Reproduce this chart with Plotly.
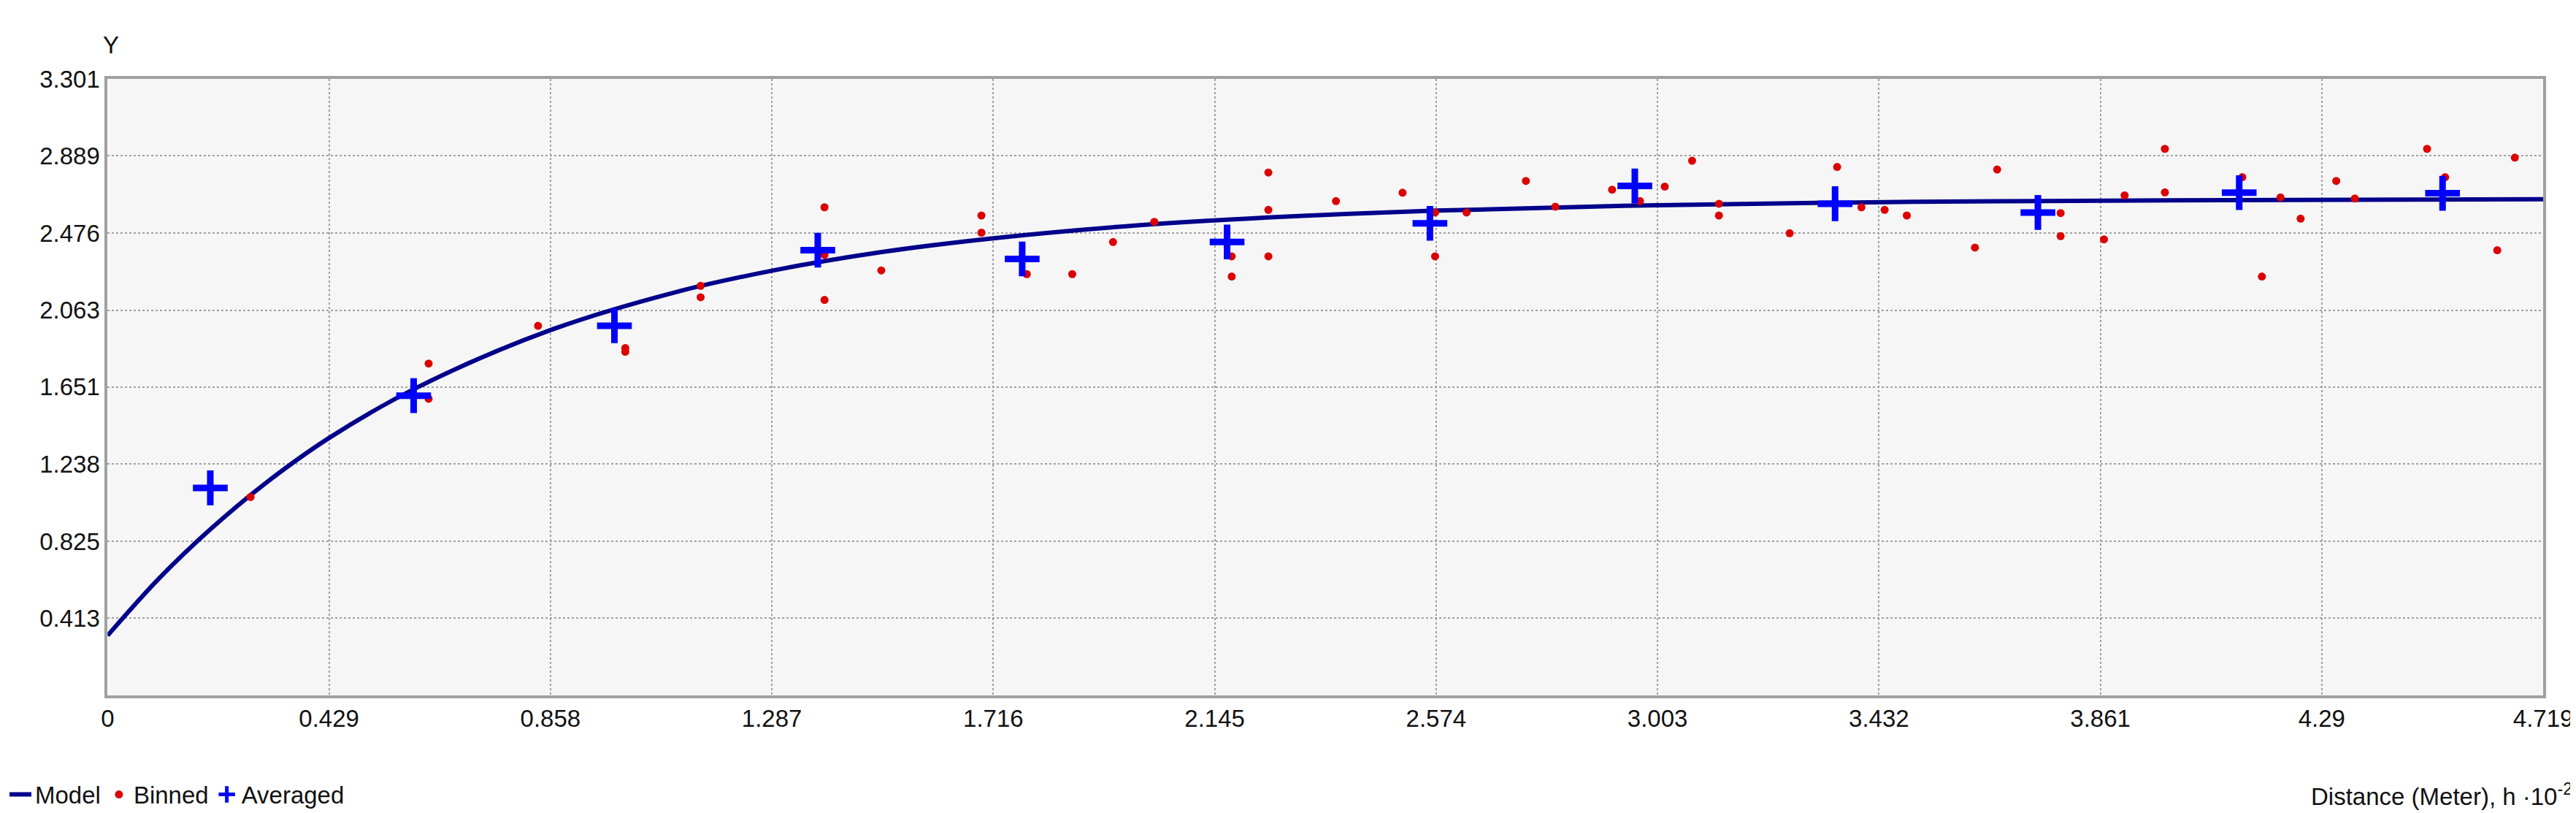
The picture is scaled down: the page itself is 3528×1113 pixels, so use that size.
import plotly.graph_objects as go

model_x = [0, 0.1, 0.2, 0.3, 0.429, 0.6, 0.858, 1.1, 1.287, 1.5, 1.716, 2.0, 2.3, 2.574, 3.0, 3.5, 4.0, 4.719]
model_y = [0.32, 0.627, 0.891, 1.123, 1.378, 1.649, 1.956, 2.159, 2.274, 2.374, 2.448, 2.518, 2.566, 2.596, 2.625, 2.643, 2.651, 2.657]

binned_x = [0.277, 0.622, 0.622, 0.834, 1.003, 1.003, 1.149, 1.149, 1.389, 1.389, 1.389, 1.499,
            1.693, 1.693, 1.781, 1.869, 1.948, 2.028, 2.178, 2.178, 2.249, 2.249, 2.249, 2.380,
            2.509, 2.572, 2.572, 2.633, 2.748, 2.805, 2.915, 2.969, 3.017, 3.070, 3.122, 3.122,
            3.259, 3.351, 3.398, 3.443, 3.486, 3.618, 3.661, 3.784, 3.784, 3.868, 3.908, 3.986,
            3.986, 4.136, 4.174, 4.210, 4.249, 4.318, 4.354, 4.494, 4.529, 4.630, 4.664]
binned_y = [1.062, 1.777, 1.588, 1.979, 1.86, 1.84, 2.193, 2.132, 2.614, 2.359, 2.118, 2.276,
            2.570, 2.478, 2.256, 2.256, 2.428, 2.536, 2.351, 2.243, 2.800, 2.600, 2.351, 2.647,
            2.692, 2.586, 2.351, 2.586, 2.755, 2.617, 2.708, 2.647, 2.725, 2.863, 2.633, 2.570,
            2.475, 2.830, 2.614, 2.600, 2.570, 2.398, 2.816, 2.583, 2.459, 2.442, 2.678, 2.927,
            2.694, 2.775, 2.243, 2.667, 2.553, 2.755, 2.661, 2.927, 2.775, 2.384, 2.880]

avg_x = [0.199, 0.593, 0.982, 1.376, 1.772, 2.169, 2.562, 2.959, 3.347, 3.740, 4.130, 4.524]
avg_y = [1.111, 1.605, 1.979, 2.384, 2.337, 2.428, 2.528, 2.728, 2.633, 2.586, 2.692, 2.689]

tick_vals = [0, 0.429, 0.858, 1.287, 1.716, 2.145, 2.574, 3.003, 3.432, 3.861, 4.29, 4.719]
y_ticks = [0.413, 0.825, 1.238, 1.651, 2.063, 2.476, 2.889, 3.301]

font = dict(family="Liberation Sans, Arial", size=33, color="#111")
fig = go.Figure()
fig.add_trace(go.Scatter(x=model_x, y=model_y, mode="lines", name="Model", line=dict(color="#00008b", width=6, shape="spline")))
fig.add_trace(go.Scatter(x=binned_x, y=binned_y, mode="markers", name="Binned",
                         marker=dict(color="#dd0000", size=11, symbol="circle")))
fig.add_trace(go.Scatter(x=avg_x, y=avg_y, mode="markers", name="Averaged",
                         marker=dict(color="#0000ff", size=34, symbol="cross-thin", line=dict(color="#0000ff", width=9))))

grid = dict(showgrid=True, gridcolor="#a0a0a0", griddash="dot", gridwidth=2,
            showline=True, linecolor="#a0a0a0", linewidth=4, mirror=True, zeroline=False,
            ticks="", tickfont=font, automargin=False)
fig.update_xaxes(range=[0, 4.719], tickvals=tick_vals, ticktext=[str(v) for v in tick_vals],
                 domain=[0.0395, 0.985], **grid)
fig.update_yaxes(range=[0, 3.301], tickvals=y_ticks, ticktext=[f"{v:.3f}" for v in y_ticks],
                 domain=[0.152, 0.91], **grid)
fig.update_layout(width=3528, height=1113, margin=dict(l=0, r=0, t=0, b=0),
                  plot_bgcolor="#f6f6f6", paper_bgcolor="white", font=font,
                  legend=dict(orientation="h", x=0.0, y=0.03, xanchor="left", yanchor="middle",
                              font=font, itemwidth=30, tracegroupgap=0),
                  annotations=[
                      dict(text="Y", x=0.037, y=0.97, xref="paper", yref="paper", showarrow=False, font=font),
                      dict(text="Distance (Meter), h ·10<sup>-2</sup>", x=0.997, y=0.03, xref="paper", yref="paper",
                           xanchor="right", yanchor="middle", showarrow=False, font=font),
                  ])
fig.write_html("out.html")
